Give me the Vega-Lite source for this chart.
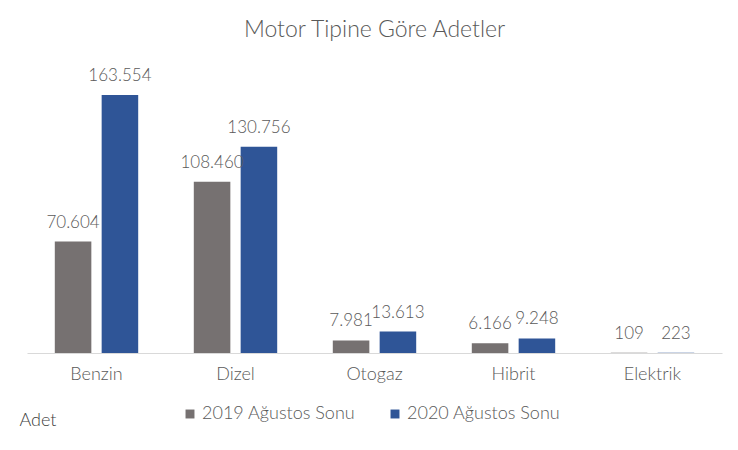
{
  "$schema": "https://vega.github.io/schema/vega-lite/v6.json",
  "width": 695,
  "height": 284,
  "autosize": {"type": "none"},
  "padding": {"left": 27, "top": 69, "right": 16, "bottom": 97},
  "background": "white",
  "config": {
    "locale": {"number": {"decimal": ",", "thousands": ".", "grouping": [3], "currency": ["", " TL"]}},
    "view": {"stroke": null},
    "font": "Lato"
  },
  "title": {
    "text": "Motor Tipine Göre Adetler",
    "fontSize": 23,
    "fontWeight": 300,
    "color": "#595959",
    "anchor": "middle",
    "offset": 25
  },
  "data": {
    "values": [
      {"tip": "Benzin", "donem": "2019 Ağustos Sonu", "adet": 70604},
      {"tip": "Benzin", "donem": "2020 Ağustos Sonu", "adet": 163554},
      {"tip": "Dizel", "donem": "2019 Ağustos Sonu", "adet": 108460},
      {"tip": "Dizel", "donem": "2020 Ağustos Sonu", "adet": 130756},
      {"tip": "Otogaz", "donem": "2019 Ağustos Sonu", "adet": 7981},
      {"tip": "Otogaz", "donem": "2020 Ağustos Sonu", "adet": 13613},
      {"tip": "Hibrit", "donem": "2019 Ağustos Sonu", "adet": 6166},
      {"tip": "Hibrit", "donem": "2020 Ağustos Sonu", "adet": 9248},
      {"tip": "Elektrik", "donem": "2019 Ağustos Sonu", "adet": 109},
      {"tip": "Elektrik", "donem": "2020 Ağustos Sonu", "adet": 223}
    ]
  },
  "encoding": {
    "x": {
      "field": "tip",
      "type": "nominal",
      "sort": null,
      "scale": {"paddingInner": 0.4, "paddingOuter": 0.2},
      "axis": {
        "title": null,
        "labelAngle": 0,
        "labelFontSize": 18,
        "labelFontWeight": 300,
        "labelColor": "#595959",
        "labelPadding": 12,
        "ticks": false,
        "domainColor": "#D9D9D9",
        "domainWidth": 1
      }
    },
    "xOffset": {"field": "donem", "type": "nominal", "scale": {"paddingInner": 0.22}},
    "y": {
      "field": "adet",
      "type": "quantitative",
      "scale": {"domain": [0, 180000]},
      "axis": {
        "labels": false,
        "ticks": false,
        "domain": false,
        "grid": false,
        "title": "Adet",
        "titleAngle": 0,
        "titleX": -8,
        "titleY": 351,
        "titleAlign": "left",
        "titleBaseline": "middle",
        "titleFontSize": 18,
        "titleFontWeight": 300,
        "titleColor": "#404040"
      }
    }
  },
  "layer": [
    {
      "mark": {"type": "bar"},
      "encoding": {
        "color": {
          "field": "donem",
          "type": "nominal",
          "scale": {"range": ["#767171", "#2F5597"]},
          "legend": {
            "title": null,
            "orient": "none",
            "direction": "horizontal",
            "legendX": 154,
            "legendY": 336,
            "symbolType": "square",
            "symbolSize": 80,
            "labelFontSize": 18,
            "labelFontWeight": 300,
            "labelColor": "#595959",
            "columnPadding": 30,
            "labelOffset": 3
          }
        }
      }
    },
    {
      "mark": {"type": "text", "dy": -19, "fontSize": 17, "fontWeight": 300, "color": "#595959"},
      "encoding": {
        "text": {"field": "adet", "type": "quantitative", "format": ",d"}
      }
    }
  ]
}
